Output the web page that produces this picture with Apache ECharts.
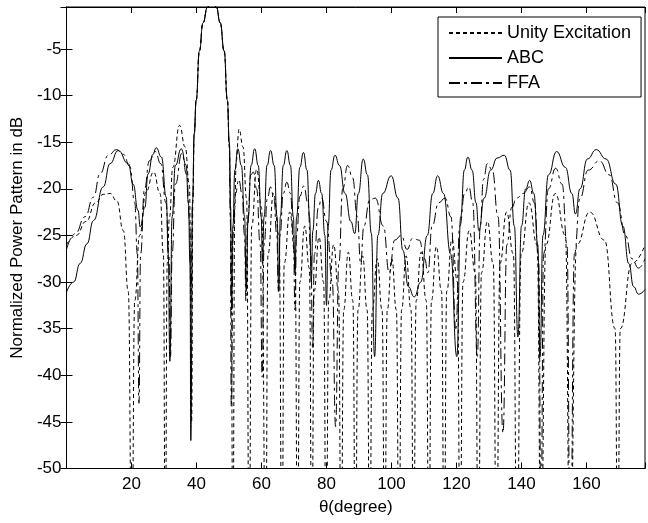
<!DOCTYPE html>
<html><head><meta charset="utf-8">
<script src="https://cdn.jsdelivr.net/npm/echarts@6/dist/echarts.min.js"></script>
<style>html,body{margin:0;padding:0;background:#fff}#c{width:648px;height:523px}</style>
</head><body><div id="c"></div>
<script>
// ---- data (theta in degrees, power in dB) ----
const seriesNames = ['Unity Excitation', 'ABC', 'FFA'];
const xTicks = [20, 40, 60, 80, 100, 120, 140, 160];
const yTicks = [-5, -10, -15, -20, -25, -30, -35, -40, -45, -50];

const unityTheta = [0,3,6,9,11.3,13.4,15.5,17.5,19.0,20.1,21.0,22.5,24.5,26.8,28.8,29.8,30.4,31.0,31.7,32.7,34.8,36.5,37.8,38.5,38.9,39.3,39.9,40.9,42.0,43.4,44.7,46.1,47.3,48.5,49.5,50.1,50.6,51.2,51.8,52.2,53.1,54.3,55.4,56.2,57.0,58.5,60.0,61.3,62.0,63.7,65.4,66.3,67.0,68.7,70.3,71.1,71.8,73.3,74.7,75.5,76.2,77.7,79.1,79.9,80.7,82.2,83.7,84.5,85.3,86.7,88.1,88.9,89.7,91.1,92.5,93.3,94.1,95.6,97.1,97.9,98.7,100.1,101.5,102.3,103.1,104.5,106.0,106.8,107.6,109.1,110.7,111.5,112.3,113.8,115.4,116.2,117.0,118.6,120.3,121.1,122.0,123.9,125.8,126.7,127.7,129.5,131.3,132.3,133.4,135.4,137.5,138.6,139.9,142.3,144.8,146.0,147.5,150.4,153.5,154.9,157.0,161.0,165.5,168.8,169.6,170.4,174.0,178.0];
const unityDb = [-26,-25,-23.5,-21.5,-20.6,-20.5,-21.3,-24.5,-31,-60,-32,-25,-20.3,-18.2,-20.5,-27,-60,-28,-23,-17.7,-13.2,-15.5,-19.5,-45,-21.3,-14.1,-10.5,-5.2,-2.2,-0.5,0,-0.5,-2.2,-5.2,-10.5,-15.5,-25,-60,-22,-17,-13.6,-15.5,-21,-60,-24,-17.9,-22,-60,-27,-20.5,-25,-60,-28,-22.5,-27,-60,-30,-24,-28.5,-60,-31,-25.2,-30,-60,-32,-26,-31,-60,-33,-26.8,-32,-60,-33,-27.2,-33,-60,-33,-27.5,-33,-60,-33,-27.5,-33,-60,-33,-27.2,-33,-60,-32,-26.8,-32,-60,-32,-26.2,-31,-60,-31,-25.4,-30,-60,-30,-24.5,-29,-60,-29,-23.5,-28,-60,-28,-22.5,-27,-60,-27,-21.5,-26,-60,-26,-20.5,-25,-60,-26,-22.5,-25.5,-35,-60,-35,-28,-26];

const abcTheta = [0,2.2,4.2,6.3,8.3,11.3,13.4,15.9,19.0,20.5,22.0,22.7,24.1,25.1,26.6,27.6,29.2,30.7,31.3,31.8,32.5,33.5,35.3,36.8,37.5,38.0,38.25,38.8,39.3,39.9,40.9,42.0,43.4,44.7,46.1,47.3,48.5,49.5,50.1,50.5,50.8,51.2,51.8,52.7,53.8,54.8,55.3,55.9,56.8,57.9,59.0,59.9,60.3,60.8,61.7,62.8,63.9,64.8,65.3,65.8,66.7,67.8,68.9,69.8,70.3,70.8,71.8,72.9,74.0,74.8,75.3,75.8,76.6,77.5,78.5,79.5,80.0,80.5,81.4,82.6,84.0,85.7,87.5,88.7,89.8,91.3,92.6,93.8,94.8,95.8,97.3,99.9,102.0,103.5,105.2,107.0,109.0,111.0,112.7,114.2,116.0,118.2,120.1,121.3,122.4,123.5,124.8,126.0,126.9,128.5,130.5,132.5,134.7,136.5,137.8,138.9,140.0,141.3,142.5,143.8,145.0,145.7,146.6,148.3,150.8,153.5,155.5,156.6,158.0,160.3,163.0,166.0,169.0,171.2,173.0,174.5,176.0,178.0];
const abcDb = [-31.1,-30.0,-28.0,-25.9,-23.4,-19.8,-17.3,-15.9,-17.3,-19.5,-22.3,-24.1,-22.0,-18.4,-16.3,-15.6,-16.6,-20.9,-27,-38.5,-23,-17.5,-15.7,-17.5,-21.5,-28,-47,-21.3,-14.1,-10.5,-5.2,-2.2,-0.5,0,-0.5,-2.2,-5.2,-10.5,-15,-22,-33,-24,-18,-15.7,-17.5,-23,-31,-23,-17.5,-15.7,-17.5,-23,-28,-23,-17.5,-15.9,-17.5,-23,-31,-23,-17.5,-15.9,-17.5,-23,-29,-23,-17.7,-16.1,-18,-23,-30,-24.5,-20.5,-19.1,-20.5,-25,-32.5,-24,-18,-16.4,-17.5,-20.5,-23.5,-24.8,-20.5,-16.8,-18.5,-24.8,-38,-25,-20.5,-18.6,-21,-26.6,-30.5,-31.6,-30,-25,-20.5,-18.6,-20.5,-27,-38,-23,-18,-16.6,-18,-21.5,-24.5,-21,-18,-16.7,-16.4,-18,-24,-35.9,-24,-20,-19.1,-20.5,-26,-38,-25,-18.5,-16.0,-17.7,-20.5,-22.7,-20,-16.8,-15.8,-16.8,-19.5,-24,-28,-30.5,-31.3,-30.8];

const ffaTheta = [0,2.7,5.7,8.3,10.3,12.9,15.4,17.5,19.5,21.0,21.8,22.3,22.8,24.0,25.5,27.3,29.0,30.6,31.5,32.0,32.5,33.5,35.5,37.0,37.9,38.3,38.8,39.3,39.9,40.9,42.0,43.4,44.7,46.1,47.3,48.5,49.5,50.1,50.4,50.7,51.3,52.0,53.0,54.0,54.8,55.2,55.7,56.7,57.5,58.5,59.6,60.2,60.8,61.8,62.8,63.8,64.7,65.2,65.7,66.7,67.8,68.9,69.8,70.3,70.8,71.8,73.0,74.3,75.2,75.7,76.3,77.5,78.5,80.0,81.8,82.8,83.8,85.0,86.5,88.0,89.5,90.5,91.5,93.3,95.0,97.5,99.3,101.0,103.0,104.8,106.5,108.5,110.2,111.2,112.5,114.5,116.5,118.3,119.8,121.0,122.5,123.8,125.0,126.4,127.3,128.3,129.5,131.0,132.8,134.3,135.5,137.0,138.5,140.5,142.5,144.0,145.3,146.0,146.8,148.3,150.5,152.5,154.0,155.0,156.3,158.0,160.5,164.0,167.0,169.5,172.0,174.0,176.0,178.0];
const ffaDb = [-26.5,-24.8,-23.0,-20.9,-18.4,-16.4,-15.8,-16.3,-17.6,-21.5,-27,-43,-27,-20,-17,-16.0,-17.3,-21.5,-27,-38,-27,-19.5,-16.2,-18.5,-23.5,-32,-21.3,-14.1,-10.5,-5.2,-2.2,-0.5,0,-0.5,-2.2,-5.2,-10.5,-15.5,-23,-43.4,-25,-20.5,-19,-20.5,-25,-32,-24,-18.5,-18.2,-20,-26,-40.2,-26,-21,-19.8,-21,-25,-31,-25,-20.5,-19.3,-20.5,-25,-33,-25,-20.8,-19.7,-21.5,-27,-37,-27,-22,-21,-23.5,-30,-45.5,-28,-20,-17.5,-18.8,-23,-28,-24,-21.2,-21.0,-24,-29,-25.5,-25,-26.5,-25.3,-25.5,-27.5,-29,-24,-21.5,-21.0,-23,-35,-24,-20.5,-19.8,-21.5,-38,-24,-19,-17.3,-18,-23,-46.2,-26,-22,-21,-20.5,-19.8,-21.5,-28,-55,-27,-20,-17.8,-19.5,-26,-60,-27,-21,-18,-17.0,-18.5,-21.5,-25,-27.5,-28.5,-27.5];

// ---- chart ----
const font = '"Liberation Sans", Arial, Helvetica, sans-serif';
function zip(a, b) { const n = Math.min(a.length, b.length); const out = []; for (let i = 0; i < n; i++) out.push([a[i], b[i]]); return out; }
const chart = echarts.init(document.getElementById('c'), null, { renderer: 'canvas' });
const axisCommon = {
  axisLine: { show: true, lineStyle: { color: '#000', width: 1 } },
  axisTick: { show: true, inside: true, length: 6, lineStyle: { color: '#000', width: 1 } },
  splitLine: { show: false }
};
const lineCommon = { type: 'line', symbol: 'none', showSymbol: false, smooth: 0.5, smoothMonotone: 'x', clip: true, silent: true, animation: false };
const option = {
  animation: false,
  backgroundColor: '#fff',
  grid: { left: 66.5, top: 7, width: 583, height: 461.5, show: true, borderColor: '#000', borderWidth: 1, backgroundColor: 'transparent' },
  xAxis: [
    Object.assign({ type: 'value', min: 0, max: 178, interval: 20, position: 'bottom',
      name: 'θ(degree)', nameLocation: 'middle', nameGap: 30,
      nameTextStyle: { color: '#000', fontSize: 17, fontFamily: font },
      axisLabel: { margin: 7, color: '#000', fontSize: 17, fontFamily: font,
        formatter: v => xTicks.indexOf(v) >= 0 ? String(v) : '' } }, axisCommon),
    Object.assign({ type: 'value', min: 0, max: 178, interval: 20, position: 'top',
      axisLabel: { show: false } }, axisCommon)
  ],
  yAxis: [
    Object.assign({ type: 'value', min: -50, max: -0.5, interval: 5, position: 'left',
      name: 'Normalized Power Pattern in dB', nameLocation: 'middle', nameGap: 38,
      nameTextStyle: { color: '#000', fontSize: 17, fontFamily: font },
      axisLabel: { margin: 5, color: '#000', fontSize: 17, fontFamily: font,
        formatter: v => yTicks.indexOf(v) >= 0 ? String(v) : '' } }, axisCommon),
    Object.assign({ type: 'value', min: -50, max: -0.5, interval: 5, position: 'right',
      axisLabel: { show: false } }, axisCommon)
  ],
  legend: {
    orient: 'vertical', left: 438, top: 17, itemWidth: 53, itemHeight: 14, itemGap: 7,
    padding: [7, 10, 5, 10], backgroundColor: '#fff', borderColor: '#000', borderWidth: 1,
    selectedMode: false,
    itemStyle: { opacity: 0 },
    textStyle: { color: '#000', fontSize: 18, lineHeight: 18, fontFamily: font },
    data: seriesNames
  },
  series: [
    Object.assign({ name: seriesNames[0], data: zip(unityTheta, unityDb),
      lineStyle: { color: '#000', width: 1, type: [4, 3] }, itemStyle: { color: '#000' } }, lineCommon),
    Object.assign({ name: seriesNames[1], data: zip(abcTheta, abcDb),
      lineStyle: { color: '#000', width: 1, type: 'solid' }, itemStyle: { color: '#000' } }, lineCommon),
    Object.assign({ name: seriesNames[2], data: zip(ffaTheta, ffaDb),
      lineStyle: { color: '#000', width: 1, type: [11, 4, 3, 4] }, itemStyle: { color: '#000' } }, lineCommon)
  ]
};
chart.setOption(option);
</script></body></html>
